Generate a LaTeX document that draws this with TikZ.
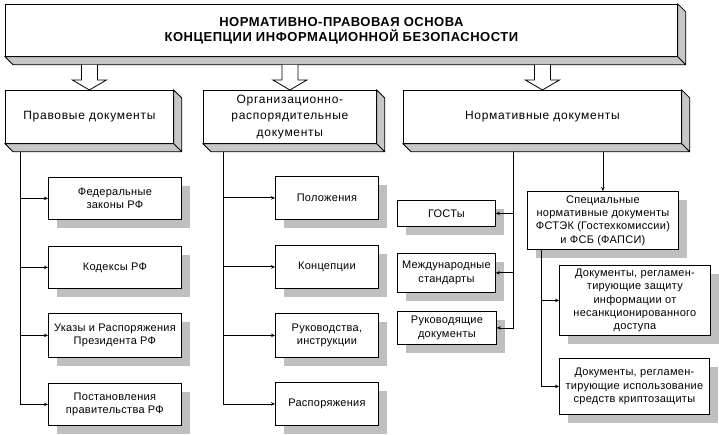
\documentclass[tikz,border=0pt]{standalone}
\usepackage{fontspec}
\setmainfont{Liberation Sans}
\newfontfamily\titlefont[LetterSpace=4]{Liberation Sans}
\newfontfamily\platefont[LetterSpace=6]{Liberation Sans}
\newfontfamily\cardfont[LetterSpace=2.5]{Liberation Sans}
\usepackage{tikz}
\usetikzlibrary{arrows.meta,shadows}

\newcommand{\bevel}[1]{%
\draw[fill=black!22] (#1.north east) -- ([shift={(8,8)}]#1.north east) -- ([shift={(8,8)}]#1.south east)
  -- ([shift={(8,8)}]#1.south west) -- (#1.south west) -- (#1.south east) -- cycle
  (#1.south east) -- ++(8,8);}
\newcommand{\hollowdown}[1]{%
\draw[fill=white] ([shift={(-8,-25)}]#1.north) -- ([shift={(-8,-10)}]#1.north) -- ([shift={(-17,-10)}]#1.north)
  -- (#1.north) -- ([shift={(17,-10)}]#1.north) -- ([shift={(8,-10)}]#1.north) -- ([shift={(8,-25)}]#1.north);}

\tikzset{
  plate/.style={draw, fill=white, inner sep=0pt, anchor=north west, align=center,
    font=\platefont\fontsize{12}{16.5}\selectfont},
  card/.style={draw, fill=white, inner sep=0pt, anchor=north west, align=center,
    font=\cardfont\fontsize{11}{13.3}\selectfont,
    drop shadow={shadow xshift=9pt, shadow yshift=-9pt, fill=black!25, opacity=1}},
  sz/.style 2 args={minimum width=#1pt, minimum height=#2pt},
  feed/.style={-{Stealth[length=4pt,width=3.5pt]}}
}

\begin{document}
\begin{tikzpicture}[x=1pt,y=-1pt,line width=0.8pt]
\useasboundingbox (0,0) rectangle (719,435);

% top level
\node[plate,sz={672}{52},font=\titlefont\fontsize{13}{15}\selectfont\bfseries] (top) at (5,4)
  {НОРМАТИВНО-ПРАВОВАЯ ОСНОВА\\КОНЦЕПЦИИ ИНФОРМАЦИОННОЙ БЕЗОПАСНОСТИ};

% second level
\node[plate,sz={168}{53}] (law) at (5,90) {Правовые документы};
\node[plate,sz={173}{53}] (org) at (203,90) {Организационно-\\распорядительные\\документы};
\node[plate,sz={278}{53}] (norm) at (403,90) {Нормативные документы};

\bevel{top}
\bevel{law}
\bevel{org}
\bevel{norm}

\hollowdown{law}
\hollowdown{org}
\hollowdown{norm}

% legal documents
\node[card,sz={133}{42}] (fed) at (48,177) {Федеральные\\законы РФ};
\node[card,sz={133}{42}] (kod) at (48,246) {Кодексы РФ};
\node[card,sz={133}{44}] (ukaz) at (48,313) {Указы и Распоряжения\\Президента РФ};
\node[card,sz={133}{42}] (post) at (48,383) {Постановления\\правительства РФ};

% organisational documents
\node[card,sz={103}{43}] (pol) at (275,176) {Положения};
\node[card,sz={103}{43}] (konc) at (275,245) {Концепции};
\node[card,sz={103}{44}] (ruk) at (275,313) {Руководства,\\инструкции};
\node[card,sz={103}{43}] (rasp) at (275,382) {Распоряжения};

% normative documents
\node[card,sz={98}{26}] (gost) at (397,200) {ГОСТы};
\node[card,sz={98}{39}] (mezh) at (397,253) {Международные\\стандарты};
\node[card,sz={99}{33}] (rd) at (397,311) {Руководящие\\документы};
\node[card,sz={151}{58}] (spec) at (527,191)
  {Специальные\\нормативные документы\\ФСТЭК (Гостехкомиссии)\\и ФСБ (ФАПСИ)};
\node[card,sz={151}{70}] (nsd) at (559,265)
  {Документы, регламен-\\тирующие защиту\\информации от\\несанкционированного\\доступа};
\node[card,sz={150}{56}] (kripto) at (559,358)
  {Документы, регламен-\\тирующие использование\\средств криптозащиты};

\coordinate (lawT) at ([shift={(15,8)}]law.south west);
\coordinate (orgT) at ([shift={(20,8)}]org.south west);
\coordinate (normT) at ([shift={(110,8)}]norm.south west);
\coordinate (specT) at (spec.north |- normT);
\coordinate (specB) at ([shift={(14,0)}]spec.south west);

\foreach \n in {fed,kod,ukaz,post} \draw[feed] (lawT) |- (\n.west);
\foreach \n in {pol,konc,ruk,rasp} \draw[feed] (orgT) |- (\n.west);
\foreach \n in {gost,mezh,rd} \draw[feed] (normT) |- (\n.east);
\draw[feed] (specT) -- (spec.north);
\foreach \n in {nsd,kripto} \draw[feed] (specB) |- (\n.west);

\end{tikzpicture}
\end{document}
